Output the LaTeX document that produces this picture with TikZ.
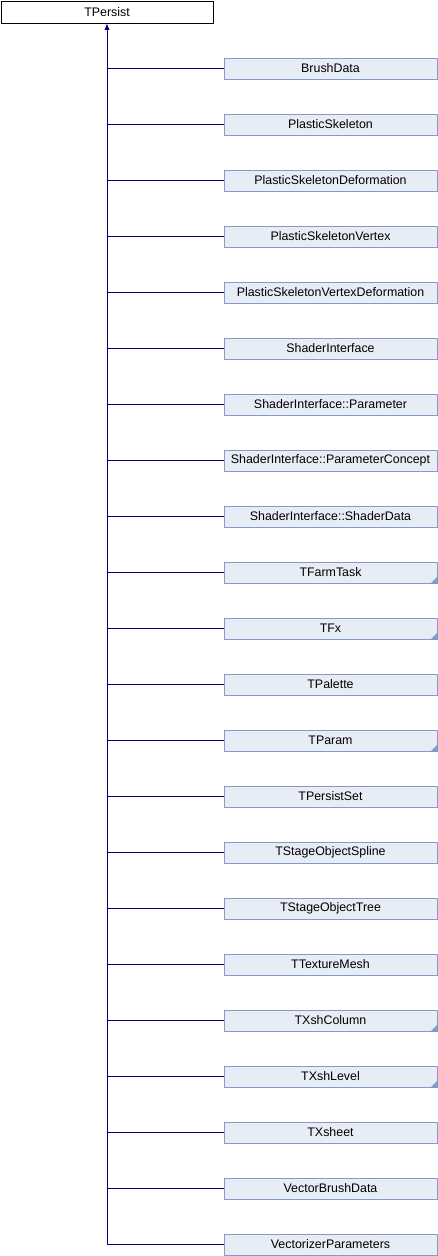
\documentclass[tikz,border=0pt]{standalone}
\usepackage{fontspec}
\newfontfamily\dxfont{Liberation Sans}
\usetikzlibrary{arrows.meta}
\definecolor{edgenavy}{RGB}{0,0,128}
\definecolor{boxfill}{RGB}{232,236,245}
\definecolor{boxline}{RGB}{132,154,204}
\begin{document}
\begin{tikzpicture}[x=0.75pt,y=0.75pt,yscale=-1,xscale=1,
  base/.style={draw=black,fill=white,minimum width=159pt,minimum height=16.5pt,inner sep=0pt,font=\dxfont\fontsize{9.3}{11}\selectfont},
  derived/.style={draw=boxline,fill=boxfill,minimum width=159.75pt,minimum height=16pt,inner sep=0pt,font=\dxfont\fontsize{9.3}{11}\selectfont},
  more/.style={path picture={\fill[boxline] ([xshift=-4.5pt]path picture bounding box.south east) -- (path picture bounding box.south east) -- ([yshift=4.5pt]path picture bounding box.south east) -- cycle;}},
  link/.style={draw=edgenavy,line width=0.75pt}]
\useasboundingbox (0,0) rectangle (438,1256);

% Base class
\node[base] (tpersist) at (107,12) {TPersist};

% Derived classes
\node[derived] (brushdata) at (330.5,68.5) {BrushData};
\node[derived] (plskel) at (330.5,124.5) {PlasticSkeleton};
\node[derived] (plskeldef) at (330.5,180.5) {PlasticSkeletonDeformation};
\node[derived] (plskelvx) at (330.5,236.5) {PlasticSkeletonVertex};
\node[derived] (plskelvxdef) at (330.5,292.5) {PlasticSkeletonVertexDeformation};
\node[derived] (shintf) at (330.5,348.5) {ShaderInterface};
\node[derived] (shparam) at (330.5,404.5) {ShaderInterface::Parameter};
\node[derived] (shparamc) at (330.5,460.5) {ShaderInterface::ParameterConcept};
\node[derived] (shdata) at (330.5,516.5) {ShaderInterface::ShaderData};
\node[derived,more] (farmtask) at (330.5,572.5) {TFarmTask};
\node[derived,more] (tfx) at (330.5,628.5) {TFx};
\node[derived] (palette) at (330.5,684.5) {TPalette};
\node[derived,more] (tparam) at (330.5,740.5) {TParam};
\node[derived] (pset) at (330.5,796.5) {TPersistSet};
\node[derived] (sospline) at (330.5,852.5) {TStageObjectSpline};
\node[derived] (sotree) at (330.5,908.5) {TStageObjectTree};
\node[derived] (texmesh) at (330.5,964.5) {TTextureMesh};
\node[derived,more] (xshcol) at (330.5,1020.5) {TXshColumn};
\node[derived,more] (xshlevel) at (330.5,1076.5) {TXshLevel};
\node[derived] (xsheet) at (330.5,1132.5) {TXsheet};
\node[derived] (vbrush) at (330.5,1188.5) {VectorBrushData};
\node[derived] (vparams) at (330.5,1244.5) {VectorizerParameters};

% Trunk with arrow to base
\draw[link,-{Latex[length=5pt,width=4pt]}] (tpersist.south |- vparams) -- (tpersist.south);

% Branches
\draw[link] (tpersist.south |- brushdata) -- (brushdata.west);
\draw[link] (tpersist.south |- plskel) -- (plskel.west);
\draw[link] (tpersist.south |- plskeldef) -- (plskeldef.west);
\draw[link] (tpersist.south |- plskelvx) -- (plskelvx.west);
\draw[link] (tpersist.south |- plskelvxdef) -- (plskelvxdef.west);
\draw[link] (tpersist.south |- shintf) -- (shintf.west);
\draw[link] (tpersist.south |- shparam) -- (shparam.west);
\draw[link] (tpersist.south |- shparamc) -- (shparamc.west);
\draw[link] (tpersist.south |- shdata) -- (shdata.west);
\draw[link] (tpersist.south |- farmtask) -- (farmtask.west);
\draw[link] (tpersist.south |- tfx) -- (tfx.west);
\draw[link] (tpersist.south |- palette) -- (palette.west);
\draw[link] (tpersist.south |- tparam) -- (tparam.west);
\draw[link] (tpersist.south |- pset) -- (pset.west);
\draw[link] (tpersist.south |- sospline) -- (sospline.west);
\draw[link] (tpersist.south |- sotree) -- (sotree.west);
\draw[link] (tpersist.south |- texmesh) -- (texmesh.west);
\draw[link] (tpersist.south |- xshcol) -- (xshcol.west);
\draw[link] (tpersist.south |- xshlevel) -- (xshlevel.west);
\draw[link] (tpersist.south |- xsheet) -- (xsheet.west);
\draw[link] (tpersist.south |- vbrush) -- (vbrush.west);
\draw[link] (tpersist.south |- vparams) -- (vparams.west);

\end{tikzpicture}
\end{document}
